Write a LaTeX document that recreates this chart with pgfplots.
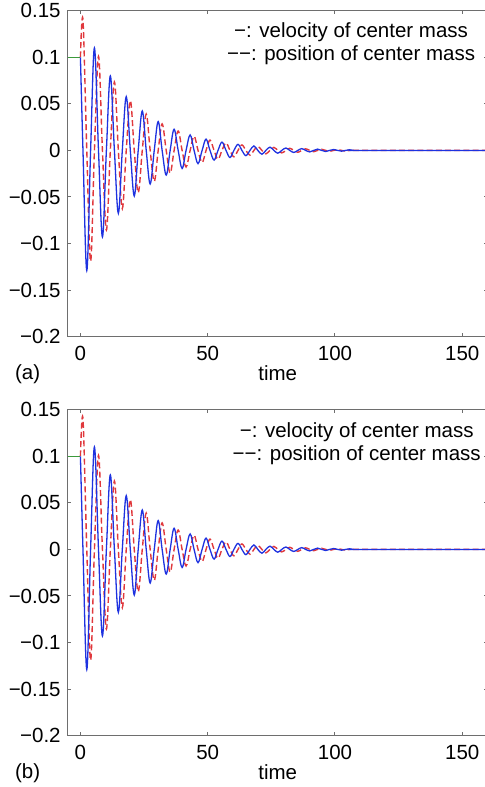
\documentclass[border=0pt]{standalone}
\usepackage{fontspec}
\setmainfont{Liberation Sans}
\usepackage{pgfplots}
\usepackage{pgfplotstable}
\pgfplotsset{compat=1.18}
\definecolor{velblue}{HTML}{1E32E0}
\definecolor{posred}{HTML}{E0383C}
\definecolor{initgreen}{HTML}{3C9A3C}
\definecolor{framegray}{HTML}{6E6E6E}

% velocity of center mass (extrema and zero crossings)
\pgfplotstableread{
t v
0 0.1
1.0 0
2.5 -0.129
4.0 0
5.5 0.110
7.1 0
8.65 -0.093
10.2 0
11.75 0.080
13.35 0
14.9 -0.0675
16.45 0
18.0 0.0577
19.6 0
21.15 -0.049
22.7 0
24.3 0.0423
25.85 0
27.4 -0.036
29.0 0
30.55 0.031
32.1 0
33.7 -0.0265
35.25 0
36.8 0.0227
38.4 0
39.95 -0.0194
41.5 0
43.1 0.0166
44.65 0
46.2 -0.0142
47.8 0
49.35 0.0121
50.9 0
52.5 -0.0104
54.05 0
55.6 0.0089
57.2 0
58.75 -0.0076
60.3 0
61.9 0.0065
63.45 0
65.0 -0.0056
66.6 0
68.15 0.0048
69.7 0
71.3 -0.0041
72.85 0
74.45 0.0035
76.0 0
77.55 -0.0030
79.1 0
80.7 0.0026
82.25 0
83.8 -0.0022
85.4 0
86.95 0.0019
88.5 0
90.1 -0.0016
91.65 0
93.2 0.0014
94.8 0
96.35 -0.0012
97.9 0
99.5 0.0010
101.05 0
102.6 -0.0008
104.2 0
105.75 0.0007
107.3 0
110 0
160 0
}\veltab

% position of center mass
\pgfplotstableread{
t x
0 0.1
1.0 0.140
2.5 0
4.0 -0.119
5.5 0
7.1 0.101
8.65 0
10.2 -0.0855
11.75 0
13.35 0.0735
14.9 0
16.45 -0.0625
18.0 0
19.6 0.0535
21.15 0
22.7 -0.0455
24.3 0
25.85 0.039
27.4 0
29.0 -0.0333
30.55 0
32.1 0.0285
33.7 0
35.25 -0.0243
36.8 0
38.4 0.0208
39.95 0
41.5 -0.0178
43.1 0
44.65 0.0152
46.2 0
47.8 -0.013
49.35 0
50.9 0.0111
52.5 0
54.05 -0.0095
55.6 0
57.2 0.0081
58.75 0
60.3 -0.0069
61.9 0
63.45 0.0059
65.0 0
66.6 -0.0051
68.15 0
69.7 0.0043
71.3 0
72.85 -0.0037
74.45 0
76.0 0.0032
77.55 0
79.1 -0.0027
80.7 0
82.25 0.0023
83.8 0
85.4 -0.0020
86.95 0
88.5 0.0017
90.1 0
91.65 -0.0014
93.2 0
94.8 0.0012
96.35 0
97.9 -0.0010
99.5 0
101.05 0.0009
102.6 0
104.2 -0.0007
105.75 0
110 0
160 0
}\postab

\pgfplotsset{
  panel/.style={
    scale only axis,
    width=210pt, height=163pt,
    anchor=north west,
    xmin=-5, xmax=160,
    ymin=-0.2, ymax=0.15,
    xtick={0,50,100,150},
    xticklabels={0,50,100,150},
    ytick={-0.2,-0.15,-0.1,-0.05,0,0.05,0.1,0.15},
    yticklabels={−0.2,−0.15,−0.1,−0.05,0,0.05,0.1,0.15},
    tick align=inside,
    major tick length=1.8pt,
    tick style={framegray, line width=0.5pt},
    axis line style={framegray, line width=0.6pt},
    tick label style={font=\fontsize{10.25}{12}\selectfont},
    xticklabel style={yshift=-1pt},
    xlabel={time},
    xlabel style={font=\fontsize{10.25}{12}\selectfont, at={(axis description cs:0.5,0)}, anchor=base, yshift=-22pt},
    clip=true,
  },
  pos line/.style={posred, line width=0.7pt, dash pattern=on 3pt off 1.6pt, smooth, tension=0.6},
  vel line/.style={velblue, line width=0.65pt, smooth, tension=0.6},
}

\begin{document}
\begin{tikzpicture}
\begin{axis}[panel, name=pa, at={(0,0)}]
\addplot[initgreen, line width=0.5pt] coordinates {(-5,0.1) (0,0.1)};
\addplot[pos line] table[x=t,y=x] {\postab};
\addplot[vel line] table[x=t,y=v] {\veltab};
\node[align=center, font=\fontsize{10.25}{11.5}\selectfont] at ([xshift=141.7pt,yshift=-16.4pt]rel axis cs:0,1) {−: velocity of center mass\\−−: position of center mass};
\end{axis}
\node[anchor=base west, font=\fontsize{10.25}{12}\selectfont] at ([xshift=-29.85pt,yshift=-21.4pt]pa.south west) {(a)};

\begin{axis}[panel, name=pb, at={(0,-199.5pt)}]
\addplot[initgreen, line width=0.5pt] coordinates {(-5,0.1) (0,0.1)};
\addplot[pos line] table[x=t,y=x] {\postab};
\addplot[vel line] table[x=t,y=v] {\veltab};
\node[align=center, font=\fontsize{10.25}{11.5}\selectfont] at ([xshift=144.5pt,yshift=-17pt]rel axis cs:0,1) {−: velocity of center mass\\−−: position of center mass};
\end{axis}
\node[anchor=base west, font=\fontsize{10.25}{12}\selectfont] at ([xshift=-29.85pt,yshift=-21.4pt]pb.south west) {(b)};

\pgfresetboundingbox
\path[use as bounding box] (-33.85pt,5.35pt) rectangle (208.15pt,-388.15pt);
\end{tikzpicture}
\end{document}
